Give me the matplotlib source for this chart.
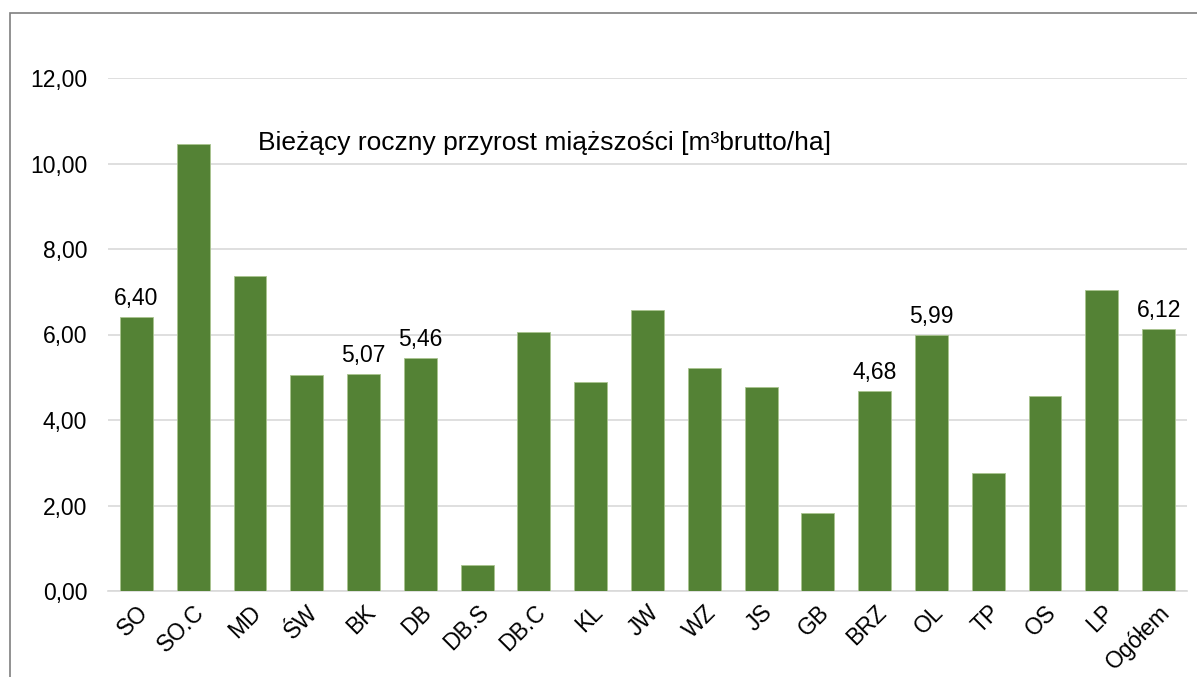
import matplotlib.pyplot as plt
from matplotlib.patches import Rectangle

plt.rcParams['font.family'] = ['Liberation Sans', 'DejaVu Sans']

categories = ["SO", "SO.C", "MD", "ŚW", "BK", "DB", "DB.S", "DB.C", "KL", "JW",
              "WZ", "JS", "GB", "BRZ", "OL", "TP", "OS", "LP", "Ogółem"]
values = [6.40, 10.46, 7.36, 5.05, 5.07, 5.46, 0.60, 6.06, 4.89, 6.57,
          5.22, 4.77, 1.82, 4.68, 5.99, 2.76, 4.56, 7.05, 6.12]
labeled = ["SO", "BK", "DB", "BRZ", "OL", "Ogółem"]
yticks = [0, 2, 4, 6, 8, 10, 12]

fig = plt.figure(figsize=(11.97, 6.77), dpi=100)
ax = fig.add_axes([108 / 1197, 1 - 591 / 677, (1187 - 108) / 1197, (591 - 78) / 677])

# frame of the chart area (cropped on right and bottom)
fig.patches.append(Rectangle((10 / 1197, -0.1), 1.2, 1 - 13 / 677 + 0.1,
                             transform=fig.transFigure, fill=False,
                             edgecolor="#7f7f7f", linewidth=1.2))

x = range(len(categories))
bars = ax.bar(x, values, width=0.58, color="#548235", edgecolor="#a9c48f",
              linewidth=0.6, zorder=3)

for bar, cat, v in zip(bars, categories, values):
    if cat in labeled:
        ax.annotate(f"{v:.2f}".replace(".", ","),
                    (bar.get_x() + bar.get_width() / 2, v),
                    xytext=(0, 5), textcoords="offset points",
                    ha="center", va="bottom", fontsize=16.5, color="black")

ax.set_xlim(-0.5, len(categories) - 0.5)
ax.set_ylim(0, 12)
ax.set_yticks(yticks)
ax.set_yticklabels([f"{t:.2f}".replace(".", ",") for t in yticks], fontsize=16.5)
ax.set_xticks(list(x))
ax.set_xticklabels(categories, rotation=45, ha="right", rotation_mode="anchor",
                   fontsize=16.5)
ax.tick_params(axis="y", length=0, pad=15)
ax.tick_params(axis="x", length=0, pad=7)

ax.grid(axis="y", color="#d9d9d9", linewidth=1.2, zorder=0)
ax.set_axisbelow(True)
for side in ["top", "right", "left"]:
    ax.spines[side].set_visible(False)
ax.spines["bottom"].set_color("#d9d9d9")
ax.spines["bottom"].set_linewidth(1.2)

ax.text(258 / 1197, 1 - 143 / 677, "Bieżący roczny przyrost miąższości [m³brutto/ha]",
        transform=fig.transFigure, ha="left", va="center", fontsize=19,
        color="black")

fig.savefig("out.png", dpi=100)
